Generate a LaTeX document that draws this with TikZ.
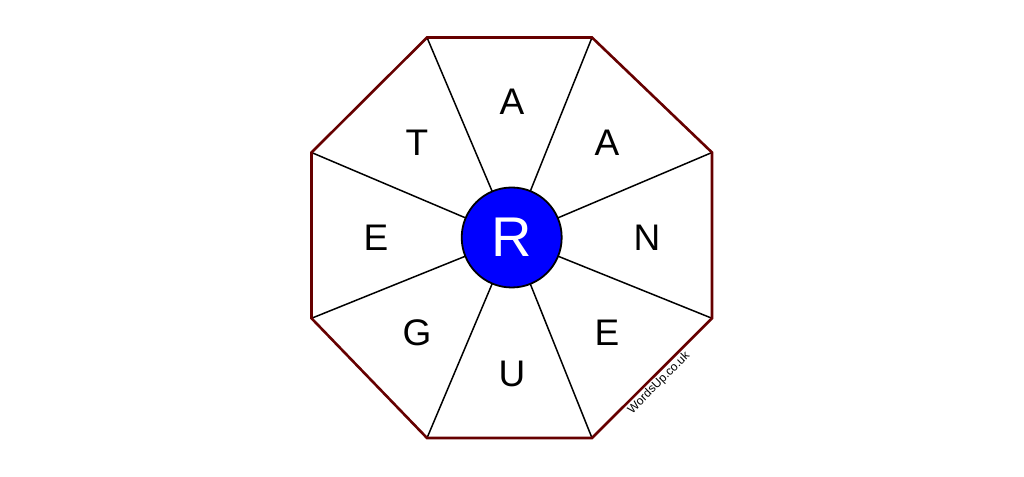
\documentclass[tikz,border=0pt]{standalone}
\usepackage{fontspec}
\setmainfont{Liberation Sans}
\definecolor{rim}{RGB}{102,0,0}
\definecolor{hub}{RGB}{0,0,255}
\begin{document}
\begin{tikzpicture}[x=1pt,y=1pt,
  letter/.style={font=\fontsize{37}{37}\selectfont, inner sep=0pt},
  spoke/.style={draw=black, line width=1.5pt},
  rimline/.style={draw=rim, line width=2.6pt, line join=miter}]
\useasboundingbox[fill=white] (0,0) rectangle (1024,476);
\coordinate (c) at (511.7,238.5);
\coordinate (v1) at (427,438.5);
\coordinate (v2) at (592,438.5);
\coordinate (v3) at (712,323.5);
\coordinate (v4) at (712,157.7);
\coordinate (v5) at (592,38);
\coordinate (v6) at (427,38);
\coordinate (v7) at (311.5,157.7);
\coordinate (v8) at (311.5,323.5);
\foreach \v in {v1,v2,v3,v4,v5,v6,v7,v8} \draw[spoke] (c) -- (\v);
\draw[rimline] (v1) -- (v2) -- (v3) -- (v4) -- (v5) -- (v6) -- (v7) -- (v8) -- cycle;
\node[circle, draw=black, line width=1.8pt, fill=hub, minimum size=100pt, inner sep=0pt,
  text=white, font=\fontsize{56}{56}\selectfont] (r) at (c) {R};
\node[letter] (l1) at (512,374) {A};
\node[letter] (l2) at (607,333) {A};
\node[letter] (l3) at (647,238.5) {N};
\node[letter] (l4) at (607,143) {E};
\node[letter] (l5) at (512,102) {U};
\node[letter] (l6) at (417,143) {G};
\node[letter] (l7) at (376,238.5) {E};
\node[letter] (l8) at (417,333) {T};
\node[rotate=45, font=\fontsize{12}{12}\selectfont, inner sep=0pt] (w) at (659,93) {WordsUp.co.uk};
\end{tikzpicture}
\end{document}
